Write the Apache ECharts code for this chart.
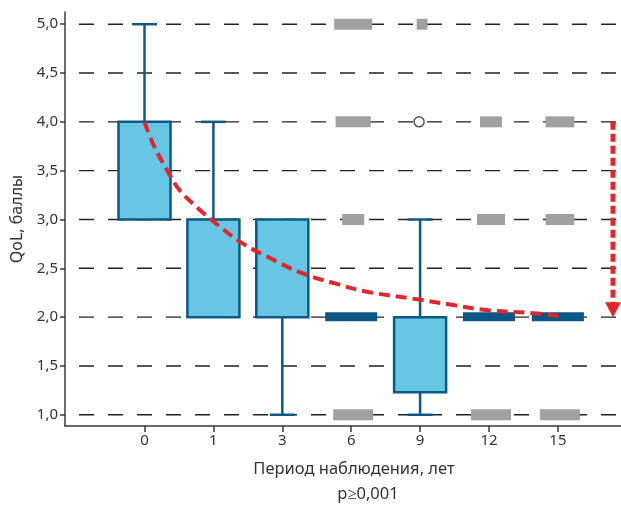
<!DOCTYPE html>
<html>
<head>
<meta charset="utf-8">
<script src="https://cdn.jsdelivr.net/npm/echarts@6/dist/echarts.min.js"></script>
<style>
html,body{margin:0;padding:0;background:#fff;}
#c{width:621px;height:505px;}
</style>
</head>
<body>
<div id="c"></div>
<script>
// ---- data ----
const categories = ['0', '1', '3', '6', '9', '12', '15'];
const boxMin = [3, 2, 1, 2, 1, 2, 2];
const boxQ1  = [3, 2, 2, 2, 1.23, 2, 2];
const boxQ3  = [4, 3, 3, 2, 2, 2, 2];
const boxMax = [5, 4, 3, 2, 3, 2, 2];
const yTicks = [1.0, 1.5, 2.0, 2.5, 3.0, 3.5, 4.0, 4.5, 5.0];
// outliers (category index, value, relative frequency)
const outlierCat   = [3, 3, 3, 3, 4, 5, 5, 5, 6, 6, 6];
const outlierVal   = [5, 4, 3, 1, 5, 4, 3, 1, 4, 3, 1];
const outlierShare = [0.95, 0.88, 0.55, 1.0, 0.27, 0.55, 0.7, 1.0, 0.72, 0.72, 1.0];
// extreme outlier (hollow circle)
const extremeCat = [4];
const extremeVal = [4];
// trend curve (position along category index, value)
const trendT = [0, 0.12, 0.34, 0.51, 0.8, 1.0, 1.39, 1.78, 2.25, 2.74, 3.23, 3.98, 4.43, 4.99, 5.64, 6.03];
const trendV = [4.0, 3.78, 3.49, 3.30, 3.10, 2.98, 2.77, 2.62, 2.46, 2.35, 2.26, 2.18, 2.13, 2.07, 2.04, 2.01];
// overall change arrow (from value, to value)
const arrowFrom = [4.0];
const arrowTo = [2.0];

// ---- styles ----
const BOX_FILL = '#66c6e4';
const BOX_LINE = '#0b5a86';
const FLAT_BOX = '#0a5684';
const GREY = '#a0a0a3';
const RED = '#e1262e';
const TEXT = '#333';
const FONT = 'Noto Sans';
const ARROW_POS = 6.8;

const chart = echarts.init(document.getElementById('c'), null, {renderer: 'canvas'});

const boxData = categories.map((c, i) => [i, boxMin[i], boxQ1[i], boxQ3[i], boxMax[i]]);
const outlierData = outlierCat.map((c, i) => [c, outlierVal[i], outlierShare[i]]);
const extremeData = extremeCat.map((c, i) => [c, extremeVal[i]]);
const trendData = trendT.map((t, i) => [t, trendV[i]]);
const arrowData = arrowFrom.map((v, i) => [ARROW_POS, v, arrowTo[i]]);

const option = {
  animation: false,
  backgroundColor: '#fff',
  grid: {left: 65, right: 0, top: 12, bottom: 79, containLabel: false},
  xAxis: {
    type: 'value',
    min: -1.154, max: 6.916,
    axisLine: {show: true, onZero: false, lineStyle: {color: '#3a3a3a', width: 1.5}},
    axisTick: {show: true, length: 6, lineStyle: {color: '#3a3a3a', width: 1.5}, customValues: categories.map((c, i) => i)},
    axisLabel: {
      customValues: categories.map((c, i) => i),
      formatter: v => categories[Math.round(v)],
      color: TEXT, fontSize: 15, fontFamily: FONT, margin: 7
    },
    splitLine: {show: false}
  },
  yAxis: {
    type: 'value',
    min: 0.885, max: 5.125,
    name: 'QoL, баллы',
    nameLocation: 'middle',
    nameGap: 40,
    nameTextStyle: {color: TEXT, fontSize: 16, fontFamily: FONT},
    axisLine: {show: true, onZero: false, lineStyle: {color: '#3a3a3a', width: 1.5}},
    axisTick: {show: true, length: 5, lineStyle: {color: '#3a3a3a', width: 1.5}, customValues: yTicks},
    axisLabel: {
      customValues: yTicks,
      formatter: v => v.toFixed(1).replace('.', ','),
      color: TEXT, fontSize: 15, fontFamily: FONT, margin: 7
    },
    splitLine: {show: false}
  },
  graphic: [
    {type: 'text', x: 354, y: 469, style: {text: 'Период наблюдения, лет', fill: TEXT, font: '16.5px "Noto Sans"', textAlign: 'center', textVerticalAlign: 'middle'}},
    {type: 'text', x: 368, y: 494, style: {text: 'p≥0,001', fill: TEXT, font: '16.5px "Noto Sans"', textAlign: 'center', textVerticalAlign: 'middle'}}
  ],
  series: [
    {
      // dashed horizontal gridlines
      type: 'custom',
      z: 1,
      data: yTicks.map(v => [0, v]),
      renderItem: (params, api) => {
        const cs = params.coordSys;
        const y = api.coord([0, api.value(1)])[1];
        return {
          type: 'line',
          shape: {x1: cs.x + 2, y1: y, x2: cs.x + cs.width, y2: y},
          style: {stroke: '#222', lineWidth: 1.4, lineDash: [15, 14], lineDashOffset: 17}
        };
      }
    },
    {
      // boxes + whiskers
      type: 'custom',
      z: 3,
      data: boxData,
      renderItem: (params, api) => {
        const i = api.value(0);
        const mn = api.value(1), q1 = api.value(2), q3 = api.value(3), mx = api.value(4);
        const bw = api.size([1, 0])[0] * 0.755;
        const cw = bw * 0.48;
        const pMin = api.coord([i, mn]), pQ1 = api.coord([i, q1]), pQ3 = api.coord([i, q3]), pMax = api.coord([i, mx]);
        const x = pQ1[0];
        const children = [];
        const ws = {stroke: BOX_LINE, lineWidth: 2.5};
        if (mx > q3) {
          children.push({type: 'line', shape: {x1: x, y1: pQ3[1], x2: x, y2: pMax[1]}, style: ws});
          children.push({type: 'line', shape: {x1: x - cw / 2, y1: pMax[1], x2: x + cw / 2, y2: pMax[1]}, style: ws});
        }
        if (mn < q1) {
          children.push({type: 'line', shape: {x1: x, y1: pQ1[1], x2: x, y2: pMin[1]}, style: ws});
          children.push({type: 'line', shape: {x1: x - cw / 2, y1: pMin[1], x2: x + cw / 2, y2: pMin[1]}, style: ws});
        }
        if (q3 > q1) {
          children.push({type: 'rect', shape: {x: x - bw / 2, y: pQ3[1], width: bw, height: pQ1[1] - pQ3[1]},
            style: {fill: BOX_FILL, stroke: BOX_LINE, lineWidth: 2.5}});
        } else {
          children.push({type: 'rect', shape: {x: x - bw / 2, y: pQ1[1] - 5, width: bw, height: 9},
            style: {fill: FLAT_BOX}});
        }
        return {type: 'group', children};
      }
    },
    {
      // grey outlier marks
      type: 'custom',
      z: 2,
      data: outlierData,
      renderItem: (params, api) => {
        const p = api.coord([api.value(0), api.value(1)]);
        const w = 40 * api.value(2);
        const h = 11;
        return {type: 'rect', shape: {x: p[0] - w / 2 + 2, y: p[1] - h / 2, width: w, height: h}, style: {fill: GREY}};
      }
    },
    {
      // extreme outlier (hollow circle)
      type: 'custom',
      z: 2,
      data: extremeData,
      renderItem: (params, api) => {
        const p = api.coord([api.value(0), api.value(1)]);
        return {type: 'circle', shape: {cx: p[0] - 1, cy: p[1], r: 5}, style: {fill: '#fff', stroke: '#555', lineWidth: 1.5}};
      }
    },
    {
      // trend curve
      type: 'line',
      z: 5,
      data: trendData,
      smooth: 0.4,
      showSymbol: false,
      symbol: 'none',
      lineStyle: {color: RED, width: 4, type: [11, 6]}
    },
    {
      // change arrow
      type: 'custom',
      z: 5,
      data: arrowData,
      renderItem: (params, api) => {
        const pTop = api.coord([api.value(0), api.value(1)]);
        const pTip = api.coord([api.value(0), api.value(2)]);
        const x = pTop[0];
        const headH = 15, headW = 16;
        return {
          type: 'group',
          children: [
            {type: 'line', shape: {x1: x, y1: pTop[1], x2: x, y2: pTip[1] - headH + 1},
              style: {stroke: RED, lineWidth: 5, lineDash: [8, 4], lineCap: 'butt'}},
            {type: 'circle', shape: {cx: x, cy: pTop[1] + 2, r: 2.5}, style: {fill: RED}},
            {type: 'polygon', shape: {points: [[x - headW / 2, pTip[1] - headH], [x + headW / 2, pTip[1] - headH], [x, pTip[1]]]},
              style: {fill: RED}}
          ]
        };
      }
    }
  ]
};
chart.setOption(option);
</script>
</body>
</html>
